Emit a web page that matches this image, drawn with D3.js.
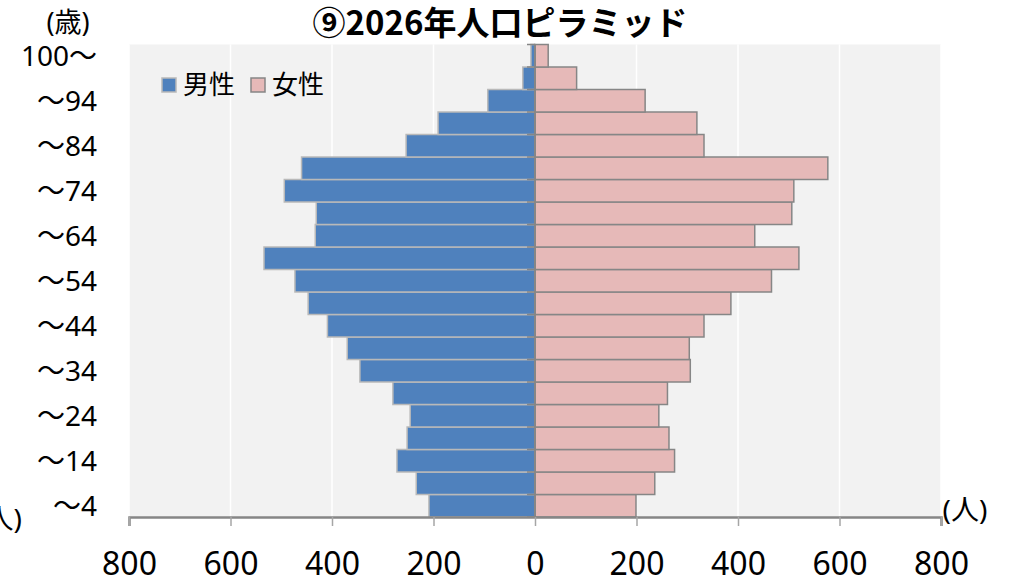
<!DOCTYPE html>
<html>
<head>
<meta charset="utf-8">
<script src="https://cdn.jsdelivr.net/npm/d3@7"></script>
<style>
  body { margin: 0; background: #fff; }
  svg { display: block; }
  text { font-family: "Noto Sans", "Noto Sans CJK JP", sans-serif; fill: #000; }
</style>
</head>
<body>
<div id="chart"></div>
<script>
// age groups, bottom (youngest) to top (oldest)
var ageGroups = ["0-4","5-9","10-14","15-19","20-24","25-29","30-34","35-39","40-44","45-49",
                 "50-54","55-59","60-64","65-69","70-74","75-79","80-84","85-89","90-94","95-99","100+"];
var male   = [209, 234, 272, 252, 246, 280, 345, 370, 409, 447, 473, 534, 433, 431, 494, 460, 254, 191, 93, 24, 8];
var female = [199, 236, 275, 264, 244, 261, 306, 304, 333, 386, 466, 520, 433, 506, 510, 577, 333, 319, 217, 82, 26];

// only every other group gets a label
var labelGroups = ["0-4","10-14","20-24","30-34","40-44","50-54","60-64","70-74","80-84","90-94","100+"];
var labelTexts  = ["～4","～14","～24","～34","～44","～54","～64","～74","～84","～94","100～"];

var xTicks = [-800, -600, -400, -200, 0, 200, 400, 600, 800];

var W = 1014, H = 586;
var plotL = 129, plotR = 941, plotT = 44.5, plotB = 517;

var svg = d3.select("#chart").append("svg")
    .attr("width", W)
    .attr("height", H);

var x = d3.scaleLinear().domain([-800, 800]).range([plotL, plotR]);
var y = d3.scaleBand()
    .domain(ageGroups.slice().reverse())
    .range([plotT, plotB])
    .padding(0);

// plot background
svg.append("rect")
    .attr("x", plotL).attr("y", plotT)
    .attr("width", plotR - plotL).attr("height", plotB - plotT)
    .attr("fill", "#f2f2f2");

// white gridlines
svg.selectAll(".grid")
    .data(xTicks.filter(function(d) { return d !== 0; }))
  .enter().append("line")
    .attr("class", "grid")
    .attr("x1", function(d) { return x(d); })
    .attr("x2", function(d) { return x(d); })
    .attr("y1", plotT).attr("y2", plotB)
    .attr("stroke", "#ffffff")
    .attr("stroke-width", 1.5);

// male bars
svg.selectAll(".male")
    .data(ageGroups)
  .enter().append("rect")
    .attr("class", "male")
    .attr("x", function(d, i) { return x(-male[i]); })
    .attr("y", function(d) { return y(d); })
    .attr("width", function(d, i) { return x(0) - x(-male[i]); })
    .attr("height", y.bandwidth())
    .attr("fill", "#4f81bd")
    .attr("stroke", "#b9b9b9")
    .attr("stroke-width", 1.5);

// female bars
svg.selectAll(".female")
    .data(ageGroups)
  .enter().append("rect")
    .attr("class", "female")
    .attr("x", x(0))
    .attr("y", function(d) { return y(d); })
    .attr("width", function(d, i) { return x(female[i]) - x(0); })
    .attr("height", y.bandwidth())
    .attr("fill", "#e6b9b8")
    .attr("stroke", "#868686")
    .attr("stroke-width", 1.5);

// category axis at zero, ticks at band edges pointing left
var edges = ageGroups.map(function(d) { return y(d); }).concat([plotB]);
svg.selectAll(".ctick")
    .data(edges)
  .enter().append("line")
    .attr("class", "ctick")
    .attr("x1", x(0) - 8).attr("x2", x(0))
    .attr("y1", function(d) { return d; })
    .attr("y2", function(d) { return d; })
    .attr("stroke", "#868686")
    .attr("stroke-width", 1.5);
svg.append("line")
    .attr("x1", x(0)).attr("x2", x(0))
    .attr("y1", plotT).attr("y2", plotB)
    .attr("stroke", "#868686")
    .attr("stroke-width", 2);

// bottom value axis
var xAxis = svg.append("g")
    .attr("transform", "translate(0," + plotB + ")")
    .call(d3.axisBottom(x)
        .tickValues(xTicks)
        .tickSize(9)
        .tickPadding(26)
        .tickFormat(function(d) { return Math.abs(d); }));
xAxis.select(".domain").attr("stroke", "#868686").attr("stroke-width", 2.5);
xAxis.selectAll(".tick line").attr("stroke", "#a6a6a6").attr("stroke-width", 1.5);
xAxis.selectAll(".tick text")
    .attr("font-size", 32)
    .style("font-family", "'Noto Sans', sans-serif")
    .attr("fill", "#000");

// age labels
svg.selectAll(".ylab")
    .data(labelGroups)
  .enter().append("text")
    .attr("class", "ylab")
    .attr("x", 97)
    .attr("y", function(d) { return y(d) + y.bandwidth() / 2; })
    .attr("dy", "0.36em")
    .attr("text-anchor", "end")
    .attr("font-size", 28)
    .text(function(d, i) { return labelTexts[i]; });

// unit labels
svg.append("text")
    .attr("x", 68).attr("y", 32)
    .attr("text-anchor", "middle")
    .attr("font-size", 27)
    .text("(歳)");
svg.append("text")
    .attr("x", 965).attr("y", 520)
    .attr("text-anchor", "middle")
    .attr("font-size", 28)
    .text("(人)");
svg.append("text")
    .attr("x", 22).attr("y", 529)
    .attr("text-anchor", "end")
    .attr("font-size", 28)
    .text("(人)");

// title
svg.append("text")
    .attr("x", 500).attr("y", 35)
    .attr("text-anchor", "middle")
    .attr("font-size", 33)
    .attr("font-weight", "bold")
    .style("font-family", "'Noto Sans CJK JP', sans-serif")
    .text("⑨2026年人口ピラミッド");

// legend
var legend = [
  {name: "男性", fill: "#4f81bd", stroke: "#b9b9b9", x: 162},
  {name: "女性", fill: "#e6b9b8", stroke: "#868686", x: 251}
];
var lg = svg.selectAll(".legend")
    .data(legend)
  .enter().append("g")
    .attr("class", "legend")
    .attr("transform", function(d) { return "translate(" + d.x + ",78)"; });
lg.append("rect")
    .attr("width", 14).attr("height", 14)
    .attr("fill", function(d) { return d.fill; })
    .attr("stroke", function(d) { return d.stroke; })
    .attr("stroke-width", 1.5);
lg.append("text")
    .attr("x", 21).attr("y", 7)
    .attr("dy", "0.36em")
    .attr("font-size", 26)
    .style("font-family", "'Noto Sans CJK JP', sans-serif")
    .text(function(d) { return d.name; });
</script>
</body>
</html>
